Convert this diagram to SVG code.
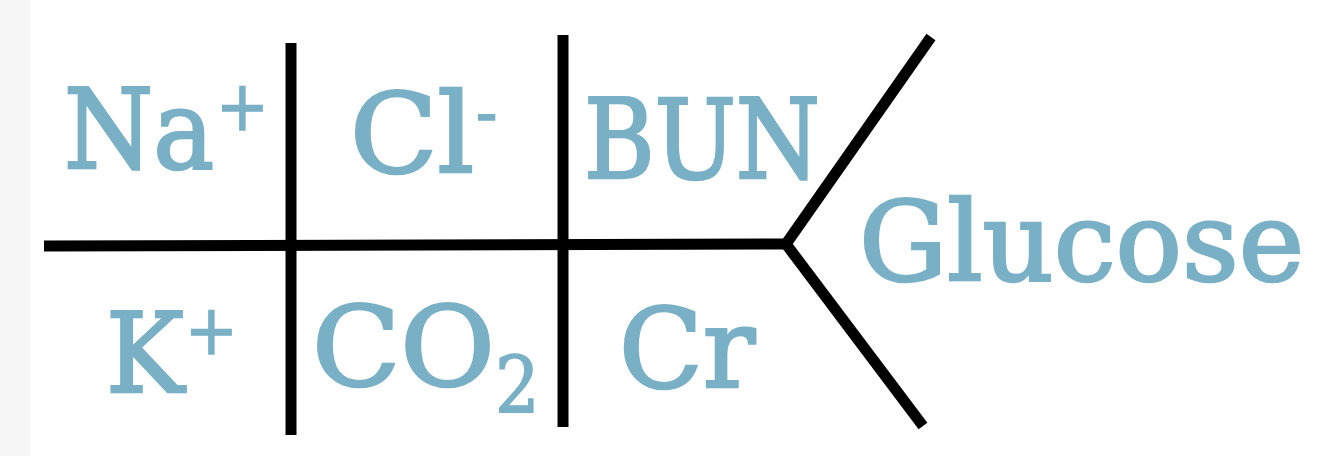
<svg xmlns="http://www.w3.org/2000/svg" width="1318" height="456" viewBox="0 0 1318 456">
<style>
.t{font-family:"DejaVu Serif Condensed","DejaVu Serif",serif;fill:#79b0c5;stroke:#79b0c5;stroke-width:2.5;font-size:110px}
.s{font-family:"DejaVu Serif Condensed","DejaVu Serif",serif;fill:#79b0c5;stroke:#79b0c5;stroke-width:1.5;font-size:70px}
.ln{stroke:#000;stroke-width:11;fill:none;stroke-linecap:butt}
</style>
<rect x="0" y="0" width="1318" height="456" fill="#ffffff"/>
<rect x="0" y="0" width="30" height="456" fill="#f6f6f6"/>
<g id="connectors">
<line class="ln" x1="44" y1="246" x2="786" y2="244"/>
<line class="ln" x1="291" y1="43" x2="291" y2="435"/>
<line class="ln" x1="563" y1="35" x2="563" y2="427"/>
<polyline class="ln" points="931,37 786,244 923,426" stroke-linejoin="miter"/>
</g>
<g id="na"><text class="t" x="64" y="168" textLength="150" lengthAdjust="spacingAndGlyphs">Na</text><text class="s" x="216" y="130">+</text></g>
<g id="k"><text class="t" x="106" y="392" textLength="78" lengthAdjust="spacingAndGlyphs">K</text><text class="s" x="185" y="354">+</text></g>
<g id="cl"><text class="t" x="350" y="172" textLength="124" lengthAdjust="spacingAndGlyphs">Cl</text><text class="s" x="476" y="136">-</text></g>
<g id="co2"><text class="t" x="312" y="385" textLength="183" lengthAdjust="spacingAndGlyphs">CO</text><text class="s" x="495" y="413" style="font-size:78px">2</text></g>
<g id="bun"><text class="t" x="584" y="178" textLength="236" lengthAdjust="spacingAndGlyphs">BUN</text></g>
<g id="cr"><text class="t" x="619" y="387" textLength="136" lengthAdjust="spacingAndGlyphs">Cr</text></g>
<g id="glucose"><text class="t" x="859" y="280" textLength="445" lengthAdjust="spacingAndGlyphs">Glucose</text></g>
</svg>
